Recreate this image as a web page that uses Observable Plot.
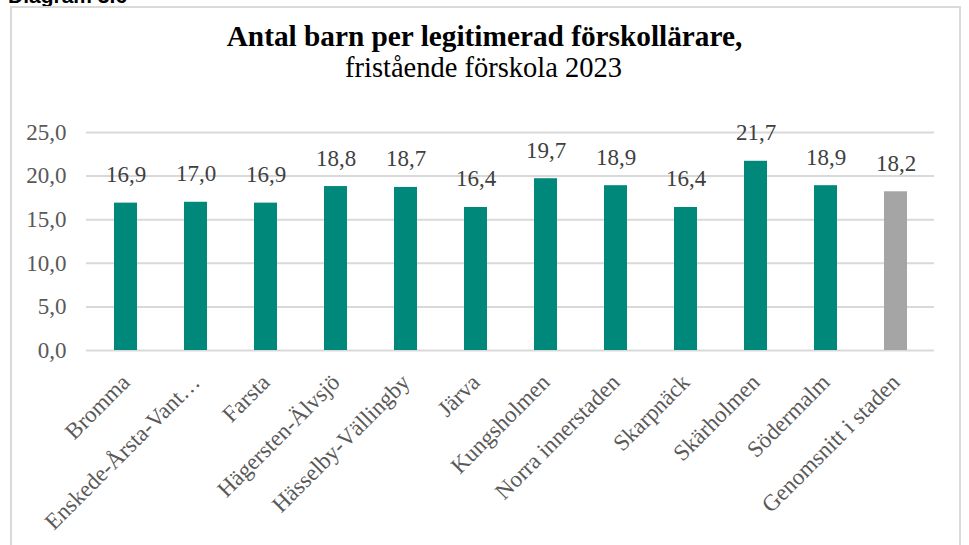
<!DOCTYPE html>
<html>
<head>
<meta charset="utf-8">
<script src="https://cdn.jsdelivr.net/npm/d3@7"></script>
<script src="https://cdn.jsdelivr.net/npm/@observablehq/plot@0.6"></script>
<style>
  html, body { margin: 0; padding: 0; background: #fff; width: 969px; height: 545px; overflow: hidden; }
  #frame { position: absolute; left: 10px; top: 6px; width: 951px; height: 600px; border: 2px solid #d9d9d9; box-sizing: border-box; }
  #diag { position: absolute; left: 8px; top: -15px; font-family: "Liberation Sans", Arial, sans-serif; font-weight: bold; font-size: 21px; line-height: 1; color: #000; }
  .ttl { position: absolute; left: 0; width: 969px; text-align: center; font-family: "Liberation Serif", "Times New Roman", serif; color: #000; line-height: 1; white-space: nowrap; }
  #t1 { top: 21.5px; font-weight: bold; font-size: 29.3px; }
  #t2 { top: 54px; font-size: 28.5px; left: -1px; }
  #chart { position: absolute; left: 0; top: 100px; }
  #chart svg text { font-family: "Liberation Serif", "Times New Roman", serif; }
</style>
</head>
<body>
<div id="diag">Diagram 3.6</div>
<div id="frame"></div>
<div id="t1" class="ttl">Antal barn per legitimerad förskollärare,</div>
<div id="t2" class="ttl">fristående förskola 2023</div>
<div id="chart"></div>
<script>
const categories = ["Bromma", "Enskede-Årsta-Vant…", "Farsta", "Hägersten-Älvsjö", "Hässelby-Vällingby", "Järva", "Kungsholmen", "Norra innerstaden", "Skarpnäck", "Skärholmen", "Södermalm", "Genomsnitt i staden"];
const values = [16.9, 17.0, 16.9, 18.8, 18.7, 16.4, 19.7, 18.9, 16.4, 21.7, 18.9, 18.2];
const yTicks = [0, 5, 10, 15, 20, 25];

const data = categories.map((c, i) => ({ cat: c, v: values[i], avg: c === "Genomsnitt i staden" }));
const fmt = v => d3.format(".1f")(v).replace(".", ",");
const serif = "'Liberation Serif', 'Times New Roman', serif";

const chart = Plot.plot({
  width: 969,
  height: 445,
  marginTop: 32,
  marginBottom: 195,
  marginLeft: 86,
  marginRight: 35,
  style: { fontFamily: serif, color: "#595959", background: "transparent" },
  x: { domain: categories, paddingInner: 0.675, paddingOuter: 0.3375, label: null },
  y: { domain: [0, 25], ticks: yTicks, label: null },
  marks: [
    Plot.ruleY(yTicks, { stroke: "#d9d9d9", strokeWidth: 2 }),
    Plot.barY(data, { x: "cat", y: "v", fill: d => d.avg ? "#a5a5a5" : "#00897b" }),
    Plot.text(data, { x: "cat", y: "v", text: d => fmt(d.v), lineAnchor: "bottom", dy: -21, fontSize: 23, fontFamily: serif, fill: "#404040" }),
    Plot.axisY(yTicks, { tickSize: 0, tickPadding: 20, tickFormat: fmt, fontSize: 23, fontFamily: serif, fill: "#595959" }),
    Plot.axisX({ tickSize: 0, tickRotate: -45, tickPadding: 28, fontSize: 23, fontFamily: serif, fill: "#595959" })
  ]
});
document.getElementById("chart").appendChild(chart);
</script>
</body>
</html>
